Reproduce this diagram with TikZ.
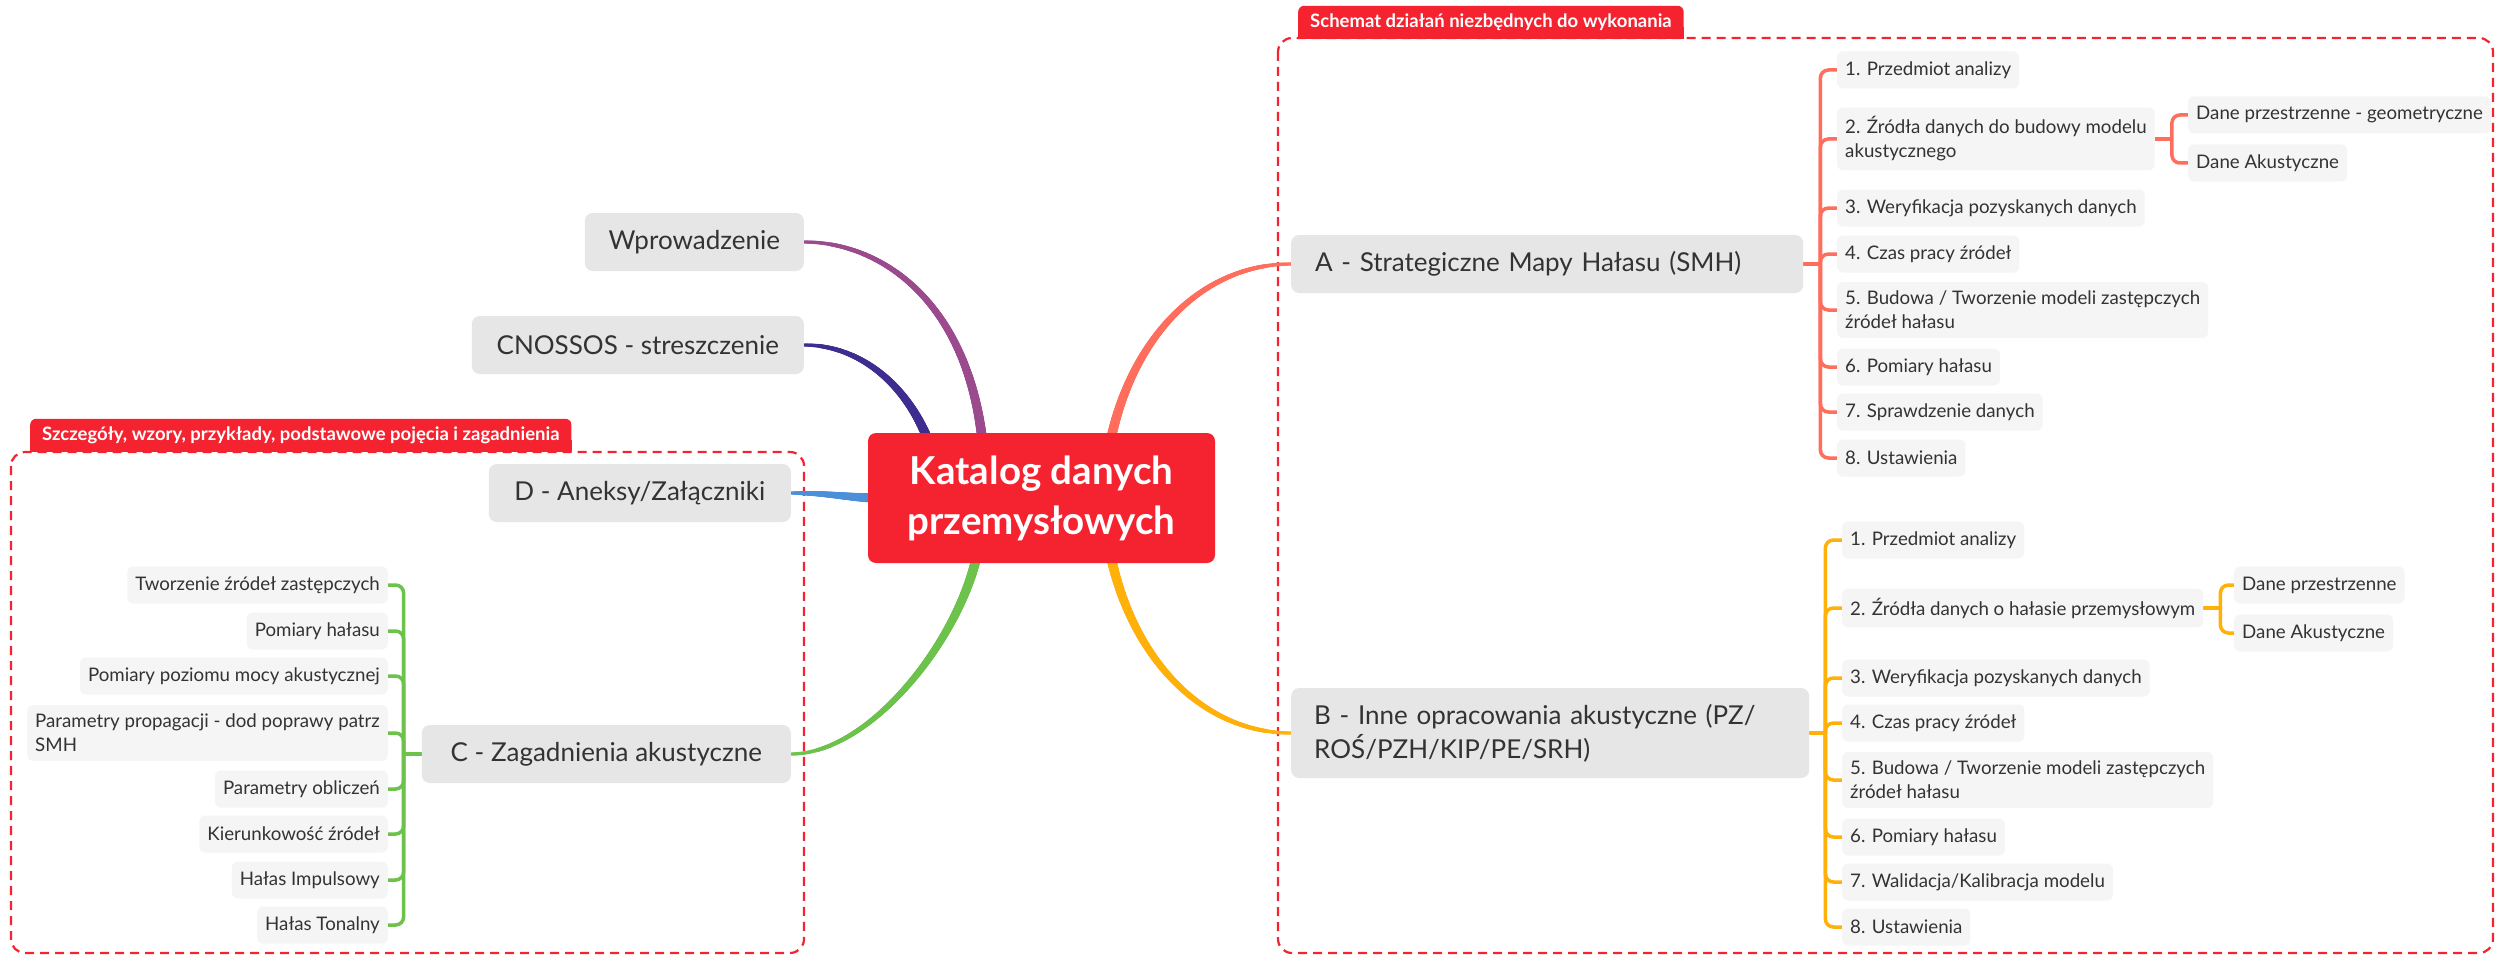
\documentclass[tikz,border=0pt]{standalone}
\usepackage{fontspec}
\setmainfont{Lato}
\usetikzlibrary{calc,decorations.markings}
\definecolor{txt}{HTML}{333333}
\definecolor{rootred}{HTML}{F52230}
\definecolor{topicgray}{HTML}{E6E6E6}
\definecolor{leafgray}{HTML}{F5F5F5}
\definecolor{cpurple}{HTML}{9B4A8D}
\definecolor{cindigo}{HTML}{3E2C91}
\definecolor{cblue}{HTML}{4C8FD9}
\definecolor{cgreen}{HTML}{6DC24B}
\definecolor{ccoral}{HTML}{FF6D5C}
\definecolor{camber}{HTML}{FFB10A}
\pgfdeclarelayer{bg}
\pgfsetlayers{bg,main}
\begin{document}
\begin{tikzpicture}[x=1pt,y=-1pt,
  leaf/.style={fill=leafgray, rounded corners=6pt, text=txt, font=\fontsize{18.7}{24}\selectfont, inner xsep=8pt, inner ysep=9pt, minimum height=37pt, align=left},
  topic/.style={fill=topicgray, rounded corners=8pt, text=txt, font=\fontsize{26}{34}\selectfont, inner xsep=23pt, inner ysep=10pt, minimum height=58pt, align=left},
  root/.style={fill=rootred, rounded corners=8pt, text=white, font=\bfseries\fontsize{38.5}{50}\selectfont, minimum width=347pt, minimum height=130pt, align=center},
  tab/.style={fill=rootred, rounded corners=6pt, text=white, font=\bfseries\fontsize{18.5}{22}\selectfont, inner xsep=12pt, inner ysep=4pt, minimum height=33pt},
  dashbox/.style={draw=rootred, line width=2.2pt, dash pattern=on 9pt off 6pt, rounded corners=14pt},
  taper/.style={decoration={markings, mark=between positions 0 and 1 step 0.7pt with {%
      \pgfmathsetmacro\tr{1.7+3.3*\pgfkeysvalueof{/pgf/decoration/mark info/distance from start}/\pgfdecoratedpathlength}%
      \fill[#1] (0,0) circle[radius=\tr pt];}}, decorate},
  brk/.style={line width=3.5pt, rounded corners=8pt}
]
\useasboundingbox (0,0) rectangle (2498,955);

% root
\node[root] (root) at (1041.5,498) {Katalog danych\\przemysłowych};

% left topics
\node[topic, anchor=east, minimum width=219pt] (W) at (804,242) {Wprowadzenie};
\node[topic, anchor=east, minimum width=332pt] (N) at (804,345) {CNOSSOS - streszczenie};
\node[topic, anchor=east, minimum width=302pt] (D) at (791,493) {D - Aneksy/Załączniki};
\node[topic, anchor=east, minimum width=369pt] (C) at (791,754) {C - Zagadnienia akustyczne};

% right topics
\node[topic, anchor=west, inner xsep=24pt, text width=464pt] (A) at (1291,264) {A - Strategiczne Mapy Hałasu (SMH)};
\node[topic, anchor=west, text width=472pt, minimum height=90pt] (B) at (1291,733) {B - Inne opracowania akustyczne (PZ/\\ROŚ/PZH/KIP/PE/SRH)};

% tabs
\node[tab, anchor=south west] (tabL) at (30,452) {Szczegóły, wzory, przykłady, podstawowe pojęcia i zagadnienia};
\node[tab, anchor=south west] (tabR) at (1298,39) {Schemat działań niezbędnych do wykonania};

% C leaves
\node[leaf, anchor=east] (C1) at (388,585) {Tworzenie źródeł zastępczych};
\node[leaf, anchor=east] (C2) at (388,631) {Pomiary hałasu};
\node[leaf, anchor=east] (C3) at (388,676) {Pomiary poziomu mocy akustycznej};
\node[leaf, anchor=east] (C4) at (388,733) {Parametry propagacji - dod poprawy patrz\\SMH};
\node[leaf, anchor=east] (C5) at (388,789) {Parametry obliczeń};
\node[leaf, anchor=east] (C6) at (388,834) {Kierunkowość źródeł};
\node[leaf, anchor=east] (C7) at (388,880) {Hałas Impulsowy};
\node[leaf, anchor=east] (C8) at (388,925) {Hałas Tonalny};

% A leaves
\node[leaf, anchor=west] (A1) at (1837,70) {1. Przedmiot analizy};
\node[leaf, anchor=west] (A2) at (1837,139) {2. Źródła danych do budowy modelu\\akustycznego};
\node[leaf, anchor=west] (A3) at (1837,208) {3. Weryfikacja pozyskanych danych};
\node[leaf, anchor=west] (A4) at (1837,254) {4. Czas pracy źródeł};
\node[leaf, anchor=west] (A5) at (1837,310) {5. Budowa / Tworzenie modeli zastępczych\\źródeł hałasu};
\node[leaf, anchor=west] (A6) at (1837,367) {6. Pomiary hałasu};
\node[leaf, anchor=west] (A7) at (1837,412) {7. Sprawdzenie danych};
\node[leaf, anchor=west] (A8) at (1837,458) {8. Ustawienia};
\node[leaf, anchor=west] (A21) at (2188,115) {Dane przestrzenne - geometryczne};
\node[leaf, anchor=west] (A22) at (2188,163) {Dane Akustyczne};

% B leaves
\node[leaf, anchor=west] (B1) at (1842,540) {1. Przedmiot analizy};
\node[leaf, anchor=west] (B2) at (1842,608) {2. Źródła danych o hałasie przemysłowym};
\node[leaf, anchor=west] (B3) at (1842,678) {3. Weryfikacja pozyskanych danych};
\node[leaf, anchor=west] (B4) at (1842,723) {4. Czas pracy źródeł};
\node[leaf, anchor=west] (B5) at (1842,780) {5. Budowa / Tworzenie modeli zastępczych\\źródeł hałasu};
\node[leaf, anchor=west] (B6) at (1842,837) {6. Pomiary hałasu};
\node[leaf, anchor=west] (B7) at (1842,882) {7. Walidacja/Kalibracja modelu};
\node[leaf, anchor=west] (B8) at (1842,927) {8. Ustawienia};
\node[leaf, anchor=west] (B21) at (2234,585) {Dane przestrzenne};
\node[leaf, anchor=west] (B22) at (2234,633) {Dane Akustyczne};

\begin{pgfonlayer}{bg}
  \fill[white] (0,0) rectangle (2498,955);
  % dashed frames
  \draw[dashbox] (11,452) rectangle (804,953);
  \draw[dashbox] (1278,38) rectangle (2493,953);
  % square bottom corners of tabs
  \fill[rootred] (tabL.south west) rectangle ([yshift=12pt]tabL.south east);
  \fill[rootred] (tabR.south west) rectangle ([yshift=12pt]tabR.south east);

  % main branches (tapered, thin at topic, thick at root)
  \path[taper=cpurple] (W.east) .. controls (880,242) and (968,300) .. ([xshift=115pt,yshift=-12pt]root.north west);
  \path[taper=cindigo] (N.east) .. controls (860,345) and (908,385) .. ([xshift=62pt,yshift=-12pt]root.north west);
  \path[taper=cblue] (D.east) .. controls (830,493) and (850,498) .. ([xshift=12pt]root.west);
  \path[taper=cgreen] (C.east) .. controls (870,754) and (960,640) .. ([xshift=110pt,yshift=12pt]root.south west);
  \path[taper=ccoral] (A.west) .. controls (1200,264) and (1130,340) .. ([xshift=242pt,yshift=-12pt]root.north west);
  \path[taper=camber] (B.west) .. controls (1200,733) and (1130,655) .. ([xshift=242pt,yshift=12pt]root.south west);

  % C brackets
  \draw[line width=3.5pt, cgreen] (C.west) -- ++(-18,0) coordinate (Cb);
  \foreach \n in {C1,C2,C3,C4,C5,C6,C7,C8}
    \draw[brk, cgreen] (Cb) |- (\n.east);

  % A brackets
  \draw[line width=3.5pt, ccoral] (A.east) -- ++(17,0) coordinate (Ab);
  \foreach \n in {A1,A2,A3,A4,A5,A6,A7,A8}
    \draw[brk, ccoral] (Ab) |- (\n.west);
  \draw[line width=3.5pt, ccoral] (A2.east) -- ++(17,0) coordinate (A2b);
  \foreach \n in {A21,A22}
    \draw[brk, ccoral] (A2b) |- (\n.west);

  % B brackets
  \draw[line width=3.5pt, camber] (B.east) -- ++(16,0) coordinate (Bb);
  \foreach \n in {B1,B2,B3,B4,B5,B6,B7,B8}
    \draw[brk, camber] (Bb) |- (\n.west);
  \draw[line width=3.5pt, camber] (B2.east) -- ++(17,0) coordinate (B2b);
  \foreach \n in {B21,B22}
    \draw[brk, camber] (B2b) |- (\n.west);
\end{pgfonlayer}
\end{tikzpicture}
\end{document}
